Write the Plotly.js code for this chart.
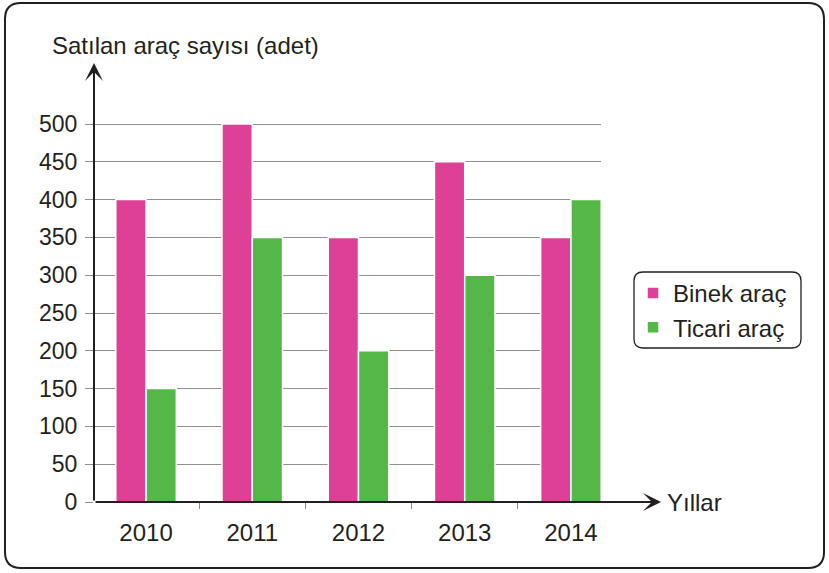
<!DOCTYPE html>
<html>
<head>
<meta charset="utf-8">
<script src="https://cdn.plot.ly/plotly-3.0.1.min.js"></script>
<style>
html,body{margin:0;padding:0;background:#fff;}
#chart{width:829px;height:573px;}
</style>
</head>
<body>
<div id="chart"></div>
<script>
// ---- data ----
const years = ['2010', '2011', '2012', '2013', '2014'];
const binek = [400, 500, 350, 450, 350];
const ticari = [150, 350, 200, 300, 400];
const seriesNames = ['Binek araç', 'Ticari araç'];
const yTicks = [0, 50, 100, 150, 200, 250, 300, 350, 400, 450, 500];
const chartTitle = 'Satılan araç sayısı (adet)';
const xAxisName = 'Yıllar';

// ---- layout helpers (pixel -> paper) ----
const W = 829, H = 573;
const L = 94, R = 601, T = 68, B = 502;
const xp = px => (px - L) / (R - L);
const yp = py => (B - py) / (B - T);
const ink = '#231f20';
const FONT = 'Liberation Sans, Arial, sans-serif';

function roundRect(x0, y0, x1, y1, r) {
  const rx = r / (R - L), ry = r / (B - T);
  const a = xp(x0), b = xp(x1), top = yp(y0), bot = yp(y1);
  return 'M' + (a + rx) + ',' + top +
    ' L' + (b - rx) + ',' + top +
    ' Q' + b + ',' + top + ' ' + b + ',' + (top - ry) +
    ' L' + b + ',' + (bot + ry) +
    ' Q' + b + ',' + bot + ' ' + (b - rx) + ',' + bot +
    ' L' + (a + rx) + ',' + bot +
    ' Q' + a + ',' + bot + ' ' + a + ',' + (bot + ry) +
    ' L' + a + ',' + (top - ry) +
    ' Q' + a + ',' + top + ' ' + (a + rx) + ',' + top + ' Z';
}

const yMax = 500 * (B - T) / (B - 124);

const traces = [
  {type: 'bar', name: seriesNames[0], x: years, y: binek,
   marker: {color: '#de3f97', line: {color: '#ffffff', width: 1.5}}, cliponaxis: false},
  {type: 'bar', name: seriesNames[1], x: years, y: ticari,
   marker: {color: '#54b748', line: {color: '#ffffff', width: 1.5}}, cliponaxis: false}
];

const layout = {
  width: W, height: H,
  margin: {l: L, r: W - R, t: T, b: H - B},
  paper_bgcolor: '#ffffff', plot_bgcolor: '#ffffff',
  font: {family: FONT, size: 24, color: ink},
  barmode: 'group', bargap: 0.43, bargroupgap: 0,
  showlegend: true,
  legend: {x: xp(633), xanchor: 'left', y: yp(310.5), yanchor: 'middle',
           bgcolor: 'rgba(0,0,0,0)', borderwidth: 0,
           font: {family: FONT, size: 24, color: ink}},
  title: {text: chartTitle, xref: 'container', yref: 'container',
          x: 52 / W, xanchor: 'left', y: 1 - 46 / H, yanchor: 'middle',
          font: {family: FONT, size: 24, color: ink}},
  xaxis: {type: 'category', range: [-0.49, -0.5 + (R - L) / 106],
          showgrid: false, zeroline: false, showline: false,
          tickson: 'boundaries', ticks: 'outside', ticklen: 6, tickwidth: 1,
          tickcolor: '#8a8a8a', ticklabelstandoff: 14,
          tickfont: {family: FONT, size: 24, color: ink}, fixedrange: true},
  yaxis: {range: [0, yMax], tickvals: yTicks, ticktext: yTicks.map(String),
          showgrid: true, gridcolor: '#8f8f8f', gridwidth: 1,
          zeroline: false, showline: false,
          ticks: 'outside', ticklen: 8, tickwidth: 1, tickcolor: '#8f8f8f',
          ticklabelstandoff: 3,
          tickfont: {family: FONT, size: 23, color: ink}, fixedrange: true},
  shapes: [
    {type: 'path', xref: 'paper', yref: 'paper', path: roundRect(5, 3, 824, 568, 16),
     line: {color: ink, width: 2}, fillcolor: 'rgba(0,0,0,0)', layer: 'below'},
    {type: 'path', xref: 'paper', yref: 'paper', path: roundRect(634, 272, 801, 348, 9),
     line: {color: ink, width: 1.3}, fillcolor: 'rgba(0,0,0,0)', layer: 'above'}
  ],
  annotations: [
    // y axis with arrow
    {xref: 'paper', yref: 'paper', x: 0, y: yp(63), ax: 0, ay: B - 63,
     axref: 'pixel', ayref: 'pixel', text: '', showarrow: true,
     arrowhead: 3, arrowsize: 1.5, arrowwidth: 2, arrowcolor: ink, standoff: 0},
    // x axis with arrow
    {xref: 'paper', yref: 'paper', x: xp(661), y: 0, ax: -(661 - L), ay: 0,
     text: '', showarrow: true,
     arrowhead: 3, arrowsize: 1.5, arrowwidth: 2, arrowcolor: ink, standoff: 0},
    {xref: 'paper', yref: 'paper', x: xp(665), y: 0, xanchor: 'left', yanchor: 'middle',
     text: xAxisName, showarrow: false, font: {family: FONT, size: 24, color: ink}}
  ]
};

Plotly.newPlot('chart', traces, layout, {staticPlot: true, displayModeBar: false});
</script>
</body>
</html>
